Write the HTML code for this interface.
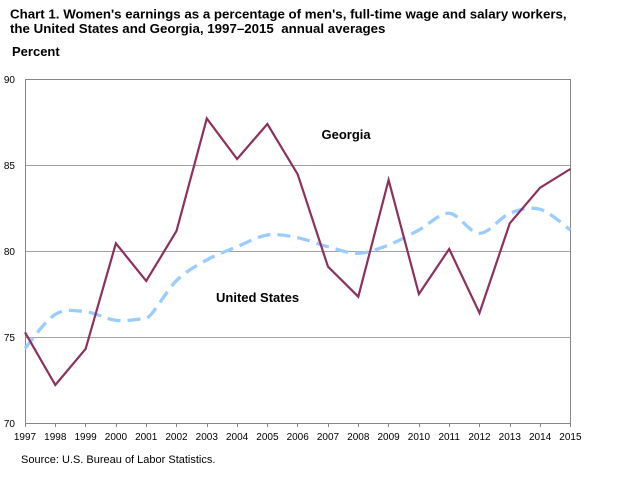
<!DOCTYPE html>
<html><head><meta charset="utf-8"><style>
html,body{margin:0;padding:0;background:#fff;}
svg{display:block;}
</style></head><body>
<svg width="632" height="490" viewBox="0 0 632 490" xmlns="http://www.w3.org/2000/svg" font-family="'Liberation Sans', Arial, sans-serif">
<rect width="632" height="490" fill="#fff"/>
<text x="10" y="18.5" font-size="13.3" font-weight="bold" fill="#000">Chart 1. Women's earnings as a percentage of men's, full-time wage and salary workers,</text>
<text x="10" y="33" font-size="13.3" font-weight="bold" fill="#000" xml:space="preserve">the United States and Georgia, 1997–2015  annual averages</text>
<text x="12" y="56" font-size="13" font-weight="bold" fill="#000">Percent</text>
<!-- gridlines -->
<g stroke="#a0a0a0" stroke-width="1">
<line x1="25" y1="165.5" x2="570.5" y2="165.5"/>
<line x1="25" y1="251.5" x2="570.5" y2="251.5"/>
<line x1="25" y1="337.5" x2="570.5" y2="337.5"/>
</g>
<!-- plot box -->
<rect x="25.5" y="79.5" width="545" height="344" fill="none" stroke="#868686" stroke-width="1"/>
<!-- x ticks -->
<g stroke="#868686" stroke-width="1">
<line x1="25.5" y1="423.5" x2="25.5" y2="427"/>
<line x1="55.5" y1="423.5" x2="55.5" y2="427"/>
<line x1="85.5" y1="423.5" x2="85.5" y2="427"/>
<line x1="116.5" y1="423.5" x2="116.5" y2="427"/>
<line x1="146.5" y1="423.5" x2="146.5" y2="427"/>
<line x1="176.5" y1="423.5" x2="176.5" y2="427"/>
<line x1="207.5" y1="423.5" x2="207.5" y2="427"/>
<line x1="237.5" y1="423.5" x2="237.5" y2="427"/>
<line x1="267.5" y1="423.5" x2="267.5" y2="427"/>
<line x1="297.5" y1="423.5" x2="297.5" y2="427"/>
<line x1="328.5" y1="423.5" x2="328.5" y2="427"/>
<line x1="358.5" y1="423.5" x2="358.5" y2="427"/>
<line x1="388.5" y1="423.5" x2="388.5" y2="427"/>
<line x1="419.5" y1="423.5" x2="419.5" y2="427"/>
<line x1="449.5" y1="423.5" x2="449.5" y2="427"/>
<line x1="479.5" y1="423.5" x2="479.5" y2="427"/>
<line x1="510.5" y1="423.5" x2="510.5" y2="427"/>
<line x1="540.5" y1="423.5" x2="540.5" y2="427"/>
<line x1="570.5" y1="423.5" x2="570.5" y2="427"/>
</g>
<!-- y labels -->
<g font-size="10" fill="#000" text-anchor="end">
<text x="15" y="83">90</text>
<text x="15" y="169">85</text>
<text x="15" y="255">80</text>
<text x="15" y="341">75</text>
<text x="15" y="427">70</text>
</g>
<!-- x labels -->
<g font-size="10" fill="#000" text-anchor="middle">
<text x="25" y="440">1997</text>
<text x="55.3" y="440">1998</text>
<text x="85.6" y="440">1999</text>
<text x="115.9" y="440">2000</text>
<text x="146.2" y="440">2001</text>
<text x="176.5" y="440">2002</text>
<text x="206.8" y="440">2003</text>
<text x="237.1" y="440">2004</text>
<text x="267.4" y="440">2005</text>
<text x="297.7" y="440">2006</text>
<text x="328" y="440">2007</text>
<text x="358.3" y="440">2008</text>
<text x="388.6" y="440">2009</text>
<text x="418.9" y="440">2010</text>
<text x="449.2" y="440">2011</text>
<text x="479.5" y="440">2012</text>
<text x="509.8" y="440">2013</text>
<text x="540.1" y="440">2014</text>
<text x="570.4" y="440">2015</text>
</g>
<!-- United States dashed smoothed -->
<path d="M25,348.3 C30.05,342.63 45.2,320.4 55.3,314.3 C65.4,308.2 75.5,310.7 85.6,311.7 C95.7,312.7 105.8,319.2 115.9,320.3 C126,321.4 136.1,319.5 146.2,318.3 C152,317.5 166.4,290.22 176.5,280.5 C186.6,270.78 196.7,265.63 206.8,260 C216.9,254.37 227,250.87 237.1,246.7 C247.2,242.53 257.3,236.5 267.4,235 C277.5,233.5 287.6,235.75 297.7,237.7 C307.8,239.65 317.9,244.1 328,246.7 C338.1,249.3 348.2,253.58 358.3,253.3 C368.4,253.02 378.5,248.88 388.6,245 C398.7,241.12 408.8,235.28 418.9,230 C429,224.72 439.1,212.75 449.2,213.3 C459.3,213.85 469.4,233.3 479.5,233.3 C489.6,233.3 499.7,217.3 509.8,213.3 C519.9,209.3 530,206.52 540.1,209.3 C550.2,212.08 565.35,226.55 570.4,230" fill="none" stroke="#99ccff" stroke-width="3.3" stroke-dasharray="13 7"/>
<!-- Georgia -->
<polyline points="25,332.3 55.3,385 85.6,349 115.9,243.3 146.2,281 176.5,231 206.8,118.5 237.1,159 267.4,124 297.7,174.3 328,266.7 358.3,296.7 388.6,180 418.9,294 449.2,249 479.5,313 509.8,223.3 540.1,187.7 570.4,169" fill="none" stroke="#8e2f5e" stroke-width="2.2" stroke-linejoin="miter"/>
<text x="321.5" y="139" font-size="13" font-weight="bold" fill="#000">Georgia</text>
<text x="216" y="302" font-size="13" font-weight="bold" fill="#000">United States</text>
<text x="21" y="463" font-size="11" fill="#000">Source: U.S. Bureau of Labor Statistics.</text>
</svg>
</body></html>
